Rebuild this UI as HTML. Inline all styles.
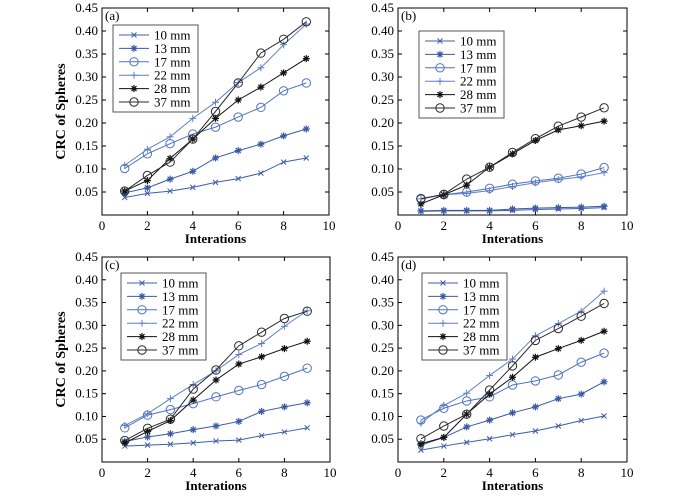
<!DOCTYPE html>
<html><head><meta charset="utf-8"><style>
body{margin:0;background:#fff;}
svg{display:block;}
svg text{font-family:"Liberation Serif","DejaVu Serif",serif;}
</style></head><body>
<svg id="chart" width="683" height="502" viewBox="0 0 683 502" font-family="Liberation Serif, serif"></svg>
<script>
const iterations=[1,2,3,4,5,6,7,8,9];
const seriesLabels=["10 mm","13 mm","17 mm","22 mm","28 mm","37 mm"];
const yTicks=[0.05,0.10,0.15,0.20,0.25,0.30,0.35,0.40,0.45];
const xTicks=[0,2,4,6,8,10];
const panelA=[[.038,.047,.052,.060,.071,.079,.091,.115,.124],[.048,.059,.078,.095,.124,.140,.154,.172,.187],[.101,.133,.155,.176,.191,.213,.234,.270,.287],[.108,.143,.170,.210,.245,.288,.320,.370,.415],[.052,.075,.123,.165,.210,.250,.278,.309,.340],[.052,.086,.115,.165,.225,.287,.352,.382,.420]];
const panelB=[[.008,.009,.009,.009,.010,.012,.013,.014,.016],[.009,.010,.010,.010,.013,.015,.016,.017,.019],[.036,.044,.050,.058,.067,.074,.080,.089,.103],[.035,.044,.047,.053,.062,.070,.077,.083,.092],[.024,.044,.065,.104,.133,.162,.185,.194,.204],[.035,.045,.078,.104,.136,.166,.193,.213,.233]];
const panelC=[[.035,.037,.039,.042,.046,.048,.058,.066,.075],[.045,.055,.062,.071,.079,.089,.111,.121,.130],[.075,.103,.115,.128,.143,.157,.170,.188,.206],[.080,.106,.139,.170,.200,.236,.260,.298,.332],[.042,.067,.091,.136,.180,.215,.231,.249,.265],[.047,.074,.094,.160,.202,.255,.285,.315,.331]];
const panelD=[[.026,.035,.043,.051,.060,.068,.079,.091,.101],[.037,.054,.077,.092,.108,.121,.139,.149,.176],[.092,.118,.134,.143,.169,.178,.191,.219,.239],[.085,.124,.151,.190,.226,.277,.304,.331,.375],[.040,.054,.105,.149,.186,.230,.249,.267,.287],[.051,.079,.105,.158,.211,.267,.293,.320,.348]];
const colors=["#3d5ea8","#3a5aa6","#4e72c2","#5f80c6","#111","#2a2a2a"];
const markers=["x","star","circle","plus","star","circle"];
const panels=[
 {id:"a",data:panelA,x0:102,x1:329,y0:8,y1:215,leg:[113,25],title:true},
 {id:"b",data:panelB,x0:398,x1:627,y0:8,y1:215,leg:[419,31],title:false},
 {id:"c",data:panelC,x0:102,x1:330,y0:257,y1:462,leg:[121,273],title:true},
 {id:"d",data:panelD,x0:398,x1:627,y0:257,y1:462,leg:[422,273],title:false}];
const NS="http://www.w3.org/2000/svg";
const svg=document.getElementById("chart");
function mk(tag,attrs,parent,text){const e=document.createElementNS(NS,tag);for(const k in attrs)e.setAttribute(k,attrs[k]);if(text!==undefined)e.textContent=text;(parent||svg).appendChild(e);return e;}
function marker(g,type,x,y,c){
 const s=3.5;
 if(type==="circle"){mk("circle",{cx:x,cy:y,r:4.2,fill:"none",stroke:c,"stroke-width":1},g);}
 else if(type==="plus"){mk("path",{d:`M${x-s} ${y}H${x+s}M${x} ${y-s}V${y+s}`,stroke:c,"stroke-width":1},g);}
 else if(type==="x"){mk("path",{d:`M${x-2.5} ${y-2.5}L${x+2.5} ${y+2.5}M${x-2.5} ${y+2.5}L${x+2.5} ${y-2.5}`,stroke:c,"stroke-width":1},g);}
 else {mk("path",{d:`M${x-s} ${y}H${x+s}M${x} ${y-s}V${y+s}M${x-2.5} ${y-2.5}L${x+2.5} ${y+2.5}M${x-2.5} ${y+2.5}L${x+2.5} ${y-2.5}`,stroke:c,"stroke-width":1.2},g);}
}
panels.forEach(p=>{
 const g=mk("g",{});
 
 
 const xs=v=>p.x0+(v-0)/10*(p.x1-p.x0);
 const ys=v=>p.y1-(v/0.45)*(p.y1-p.y0);
 mk("rect",{x:p.x0,y:p.y0,width:p.x1-p.x0,height:p.y1-p.y0,fill:"none",stroke:"#000","stroke-width":1},g);
 yTicks.forEach(t=>{const y=ys(t);
  mk("line",{x1:p.x0,x2:p.x0+4,y1:y,y2:y,stroke:"#000"},g);
  mk("line",{x1:p.x1,x2:p.x1-4,y1:y,y2:y,stroke:"#000"},g);
  const tl=mk("text",{x:p.x0-4,y:y+4,"text-anchor":"end","font-size":13},g,t.toFixed(2));
  
  });
 xTicks.forEach(t=>{const x=xs(t);
  mk("line",{x1:x,x2:x,y1:p.y1,y2:p.y1-4,stroke:"#000"},g);
  mk("line",{x1:x,x2:x,y1:p.y0,y2:p.y0+4,stroke:"#000"},g);
  const tl=mk("text",{x:x,y:p.y1+15,"text-anchor":"middle","font-size":13},g,String(t));
  
  });
 const xl=mk("text",{x:(p.x0+p.x1)/2,y:p.y1+28,"text-anchor":"middle","font-size":13,"font-weight":"bold"},g,"Interations");
 
 
 if(p.title){const yt=mk("text",{x:0,y:0,"text-anchor":"middle","font-size":14,"font-weight":"bold",transform:`translate(${p.x0-37},${(p.y0+p.y1)/2}) rotate(-90)`},g,"CRC of Spheres");
  
  }
 const pl=mk("text",{x:p.x0+3,y:p.y0+12,"font-size":13},g,"("+p.id+")");
 
 
 p.data.forEach((vals,si)=>{
  const sg=mk("g",{},g);
  
  
  mk("polyline",{points:vals.map((v,i)=>xs(iterations[i])+","+ys(v)).join(" "),fill:"none",stroke:colors[si],"stroke-width":1},sg);
  vals.forEach((v,i)=>marker(sg,markers[si],xs(iterations[i]),ys(v),colors[si]));
 });
 const lg=mk("g",{},g);
 
 
 const [lx,ly]=p.leg;
 mk("rect",{x:lx,y:ly,width:85,height:87,fill:"#fff",stroke:"#555","stroke-width":1},lg);
 seriesLabels.forEach((lab,si)=>{
  const y=ly+10+si*13.4;
  const e=mk("g",{},lg);
  
  
  mk("line",{x1:lx+6,x2:lx+36,y1:y,y2:y,stroke:colors[si]},e);
  marker(e,markers[si],lx+21,y,colors[si]);
  mk("text",{x:lx+41,y:y+4.5,"font-size":13},e,lab);
 });
});
</script>
</body></html>
